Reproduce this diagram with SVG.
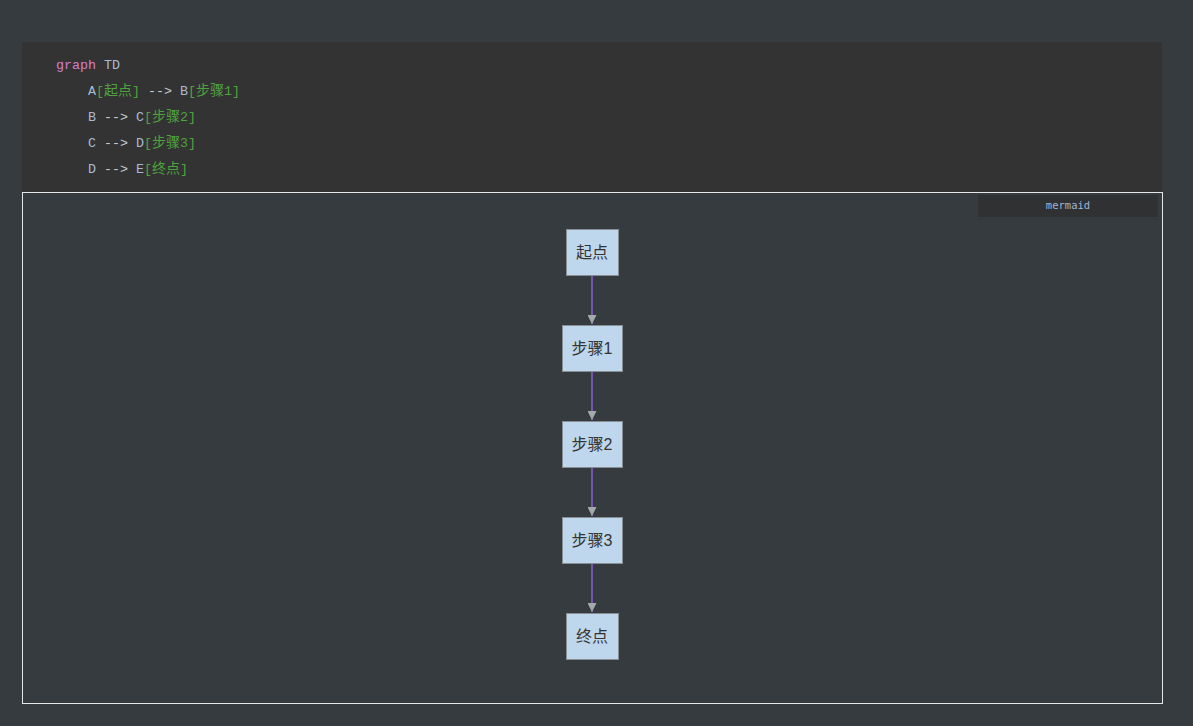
<svg xmlns="http://www.w3.org/2000/svg" width="1193" height="726" viewBox="0 0 1193 726">
<style>
.code{font-family:"Liberation Mono","DejaVu Sans Mono","Noto Sans CJK SC",monospace;font-size:13.33px;}
.kw{fill:#d57fd0;}
.id{fill:#a9bad6;}
.op{fill:#c8ccd0;}
.str{fill:#4fa33f;}
.cjk{font-size:14px;}
.node rect{fill:#bfd7ec;stroke:#888d93;stroke-width:1;}
.node text{font-family:"Liberation Sans","Noto Sans CJK SC",sans-serif;font-size:16px;fill:#333;text-anchor:middle;dominant-baseline:central;}
.edge{stroke:#8a5fd6;stroke-width:1.5;fill:none;}
</style>
<defs>
<marker id="arr" viewBox="0 0 10 10" refX="10" refY="5" markerWidth="10" markerHeight="9" markerUnits="userSpaceOnUse" orient="auto">
<path d="M0,0 L10,5 L0,10 z" fill="#a5a8ad"/>
</marker>
</defs>
<rect x="0" y="0" width="1193" height="726" fill="#363b40"/>
<rect x="22" y="42" width="1140" height="150" fill="#333333"/>
<g class="code">
<text x="56" y="69"><tspan class="kw">graph</tspan><tspan class="id"> TD</tspan></text>
<text x="88" y="95"><tspan class="id">A</tspan><tspan class="str">[<tspan class="cjk">起点</tspan>]</tspan><tspan class="op"> --&gt; </tspan><tspan class="id">B</tspan><tspan class="str">[<tspan class="cjk">步骤</tspan>1]</tspan></text>
<text x="88" y="121"><tspan class="id">B</tspan><tspan class="op"> --&gt; </tspan><tspan class="id">C</tspan><tspan class="str">[<tspan class="cjk">步骤</tspan>2]</tspan></text>
<text x="88" y="147"><tspan class="id">C</tspan><tspan class="op"> --&gt; </tspan><tspan class="id">D</tspan><tspan class="str">[<tspan class="cjk">步骤</tspan>3]</tspan></text>
<text x="88" y="173"><tspan class="id">D</tspan><tspan class="op"> --&gt; </tspan><tspan class="id">E</tspan><tspan class="str">[<tspan class="cjk">终点</tspan>]</tspan></text>
</g>
<rect x="22.5" y="192.5" width="1140" height="511" fill="none" stroke="#e6e6e6" stroke-width="1"/>
<rect x="978" y="195" width="180" height="22" fill="#303133"/>
<text x="1068" y="209" font-family="DejaVu Sans Mono,monospace" font-size="10.5" fill="#9fb6d6" text-anchor="middle">mermaid</text>
<g id="edges">
<line class="edge" x1="592" y1="275" x2="592" y2="324" marker-end="url(#arr)"/>
<line class="edge" x1="592" y1="371" x2="592" y2="420" marker-end="url(#arr)"/>
<line class="edge" x1="592" y1="467" x2="592" y2="516" marker-end="url(#arr)"/>
<line class="edge" x1="592" y1="563" x2="592" y2="612" marker-end="url(#arr)"/>
</g>
<g id="A" class="node"><rect x="566.5" y="229.5" width="52" height="46"/><text x="592" y="252">起点</text></g>
<g id="B" class="node"><rect x="562.5" y="325.5" width="60" height="46"/><text x="592" y="348">步骤1</text></g>
<g id="C" class="node"><rect x="562.5" y="421.5" width="60" height="46"/><text x="592" y="444">步骤2</text></g>
<g id="D" class="node"><rect x="562.5" y="517.5" width="60" height="46"/><text x="592" y="540">步骤3</text></g>
<g id="E" class="node"><rect x="566.5" y="613.5" width="52" height="46"/><text x="592" y="636">终点</text></g>
</svg>
